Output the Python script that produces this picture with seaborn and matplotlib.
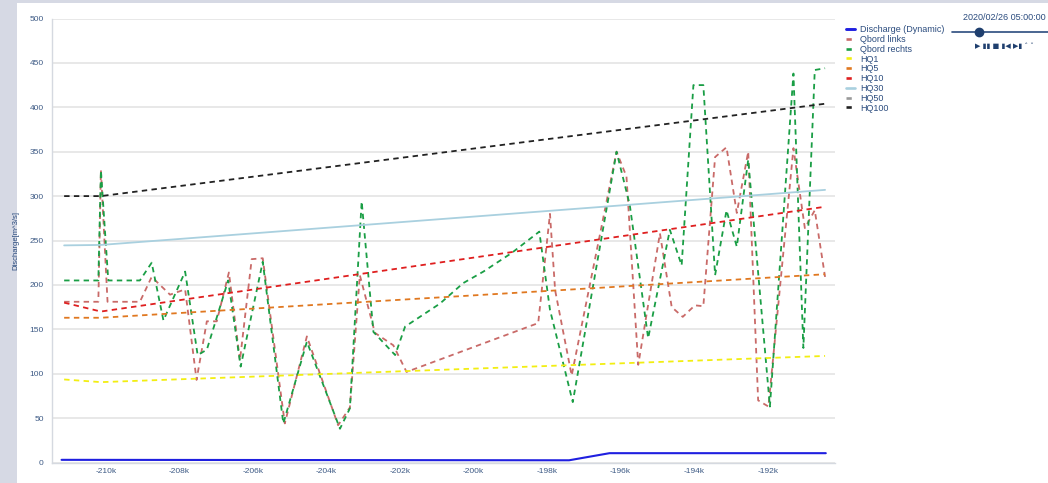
import numpy as np
import pandas as pd
import matplotlib
matplotlib.use("Agg")
import matplotlib.pyplot as plt
from matplotlib.lines import Line2D
from matplotlib.patches import Rectangle
import seaborn as sns

# -----------------------------
# Data (station in km, discharge in m^3/s)
# -----------------------------
discharge_x = [-211.2, -197.4, -196.3, -190.42]
discharge_y = [3, 2.5, 10.5, 10.5]

links_x = [-211.13, -210.20, -210.13, -209.95, -209.07, -208.75, -208.25, -207.84,
           -207.53, -207.25, -206.98, -206.65, -206.35, -206.03, -205.73, -205.13,
           -204.53, -203.68, -203.36, -203.09, -202.68, -202.18, -201.82, -198.24,
           -197.92, -197.78, -197.33, -196.11, -195.84, -195.52, -194.93, -194.61,
           -194.31, -193.98, -193.75, -193.43, -193.12, -192.84, -192.53, -192.26,
           -191.98, -191.30, -190.99, -190.72, -190.44]
links_y = [181, 181, 329, 181, 181, 209, 189, 195,
           93, 159, 159, 214, 115, 229, 230, 44,
           142, 42, 62, 211, 146, 132, 102, 157,
           280, 194, 98, 350, 322, 110, 258, 175,
           164, 177, 176, 344, 355, 281, 350, 70,
           63, 354, 264, 284, 209]

rechts_x = [-211.13, -210.20, -210.13, -209.93, -209.07, -208.75, -208.43, -207.84,
            -207.50, -207.25, -206.67, -206.33, -205.73, -205.17, -204.53, -203.63,
            -203.36, -203.04, -202.72, -202.13, -201.86, -200.91, -200.28, -199.73,
            -198.96, -198.21, -197.92, -197.30, -196.11, -195.75, -195.25, -194.66,
            -194.34, -194.02, -193.75, -193.43, -193.12, -192.84, -192.53, -191.94,
            -191.30, -191.03, -190.72, -190.44]
rechts_y = [205, 205, 329, 205, 205, 225, 160, 215,
            121, 127, 205, 108, 226, 44, 136, 38,
            61, 294, 147, 121, 153, 179, 202, 215,
            236, 260, 172, 68, 350, 290, 140, 262,
            222, 425, 425, 211, 284, 243, 341, 63,
            438, 129, 442, 444]

hq_x = [-211.13, -210.13, -190.44]
hq1 = [93.5, 90.5, 120]
hq5 = [163, 163, 212]
hq10 = [180, 170, 288]
hq30 = [244.5, 245, 307]
hq50 = []
hq100 = [300, 300, 404]

x_ticks = [-210, -208, -206, -204, -202, -200, -198, -196, -194, -192]
y_ticks = [0, 50, 100, 150, 200, 250, 300, 350, 400, 450, 500]

time_label = "2020/02/26 05:00:00"

# -----------------------------
# Styling
# -----------------------------
sns.set_theme(style="white")
plt.rcParams['font.family'] = ['Liberation Sans', 'DejaVu Sans']
text_col = "#2b4c7e"
dash = (3, 2.4)

fig = plt.figure(figsize=(10.48, 4.83), dpi=100)
fig.patch.set_facecolor("#d6d9e4")
fig.add_artist(Rectangle((17 / 1048, 0), 1 - 17 / 1048, 1 - 3 / 483,
                         transform=fig.transFigure, facecolor="white",
                         edgecolor="none", zorder=0))

ax = fig.add_axes([52 / 1048, 20.5 / 483, (835 - 52) / 1048, (462.5 - 18.5) / 483])
ax.set_facecolor("white")

series = [
    ("Discharge (Dynamic)", discharge_x, discharge_y, "#1f1fe0", None, 1.5),
    ("Qbord links", links_x, links_y, "#c96a68", dash, 1.3),
    ("Qbord rechts", rechts_x, rechts_y, "#1a9e45", dash, 1.3),
    ("HQ1", hq_x, hq1, "#f2ee12", dash, 1.3),
    ("HQ5", hq_x, hq5, "#e07820", dash, 1.3),
    ("HQ10", hq_x, hq10, "#df1f1f", dash, 1.3),
    ("HQ30", hq_x, hq30, "#a9d0df", None, 1.3),
    ("HQ50", hq_x, hq50, "#999999", dash, 1.3),
    ("HQ100", hq_x, hq100, "#222222", dash, 1.3),
]

handles = []
for name, xs, ys, col, ds, lw in series:
    if len(ys) > 0:
        df = pd.DataFrame({"x": xs, "y": ys})
        sns.lineplot(data=df, x="x", y="y", ax=ax, color=col, lw=lw,
                     estimator=None, sort=False, legend=False)
        line = ax.lines[-1]
        if ds is not None:
            line.set_dashes(ds)
    h = Line2D([], [], color=col, lw=lw + 0.6)
    if ds is not None:
        h.set_dashes((2, 1.5))
    handles.append(h)

ax.set_xlim(-211.46, -190.17)
ax.set_ylim(0, 500)
ax.set_xticks(x_ticks)
ax.set_xticklabels([f"{t}k" for t in x_ticks])
ax.set_yticks(y_ticks)
ax.set_xlabel("")
ax.set_ylabel("Discharge[m^3/s]", fontsize=5.5, color=text_col, labelpad=7)
ax.tick_params(axis="both", length=0, labelsize=6, labelcolor="#3d5a85")
ax.tick_params(axis="y", pad=6)
ax.tick_params(axis="x", pad=4)
ax.grid(axis="y", color="#e6e6e6", lw=1.3)
ax.set_axisbelow(True)
for s in ["top", "right"]:
    ax.spines[s].set_visible(False)
for s in ["left", "bottom"]:
    ax.spines[s].set_color("#d5d9e0")
    ax.spines[s].set_linewidth(1)

# Legend outside right
leg = fig.legend(handles, [s[0] for s in series], loc="upper left",
                 bbox_to_anchor=(842 / 1048, 1 - 21.5 / 483), frameon=False,
                 fontsize=6.5, handlelength=1.05, handletextpad=0.55,
                 labelspacing=0.09, borderaxespad=0)
for t in leg.get_texts():
    t.set_color(text_col)

# Time slider widget (top right)
fig.text(1004 / 1048, 1 - 17 / 483, time_label, ha="center", va="center",
         fontsize=6.5, color=text_col)
fig.add_artist(Line2D([952 / 1048, 1.0], [1 - 32 / 483, 1 - 32 / 483],
                      transform=fig.transFigure, color=text_col, lw=1.2))
fig.add_artist(Line2D([979 / 1048], [1 - 32 / 483], transform=fig.transFigure,
                      marker="o", markersize=6, color="#1f3f6e"))
fig.text(975 / 1048, 1 - 46 / 483, "▶ ▮▮ ■ ▮◀ ▶▮ ˄ ˅", ha="left", va="center",
         fontsize=5, color="#1f3f6e", family=['DejaVu Sans'])

fig.savefig("out.png", dpi=100, facecolor=fig.get_facecolor())
